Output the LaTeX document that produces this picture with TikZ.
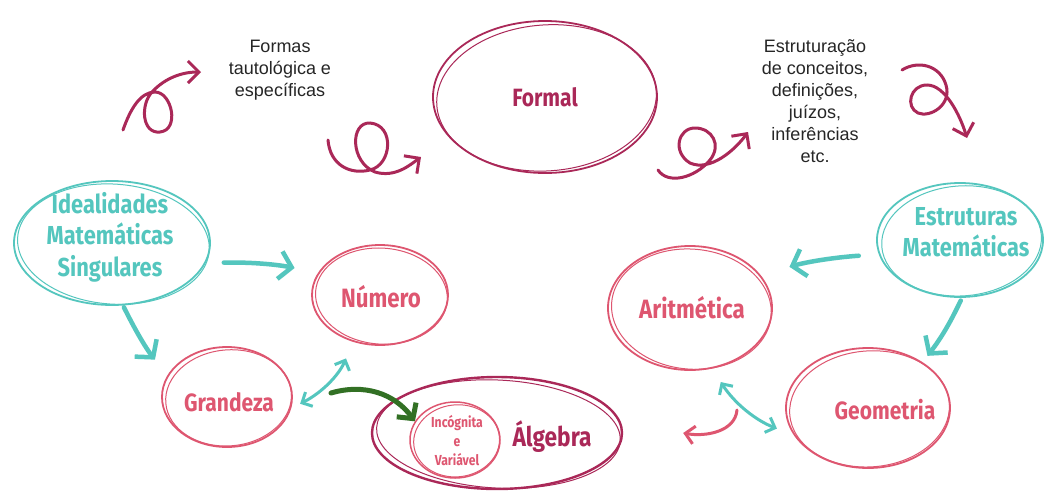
\documentclass[tikz,border=0pt]{standalone}
\usepackage{fontspec}
\setmainfont{Liberation Sans}
\newfontfamily\labfont[FakeStretch=0.84]{Fira Sans}
\usetikzlibrary{shapes.geometric,arrows.meta}
\definecolor{tealc}{RGB}{84,198,190}
\definecolor{pinkc}{RGB}{222,86,112}
\definecolor{crim}{RGB}{170,40,88}
\definecolor{grn}{RGB}{50,112,36}
\tikzset{
  ell/.style={ellipse, draw, inner sep=0pt, line width=1.8pt},
  lab/.style={font=\labfont\bfseries\fontsize{25}{31}\selectfont, align=center},
  note/.style={font=\fontsize{18}{22}\selectfont, align=center, text=black!85},
  tarr/.style={draw=tealc, line width=4.5pt, line cap=round, -{Straight Barb[length=12pt,width=28pt]}},
  tdbl/.style={draw=tealc, line width=3pt, line cap=round, {Straight Barb[length=8pt,width=16pt]}-{Straight Barb[length=8pt,width=16pt]}},
  curl/.style={draw=crim, line width=3pt, line cap=round, -{Straight Barb[length=11pt,width=22pt]}},
}
\newcommand\skell[5]{\draw[#4, line width=1pt, rotate around={#5:(#1.center)}] ([shift={(1.5,1)}]#1.center) ellipse [x radius=#2, y radius=#3];}
\begin{document}
\begin{tikzpicture}[x=1pt,y=-1pt]
\fill[white] (0,0) rectangle (1044,491);
\useasboundingbox (0,0) rectangle (1044,491);

% ellipses
\node[ell, draw=crim, minimum width=224, minimum height=152] (formal) at (545,97) {};
\skell{formal}{110}{73}{crim}{4}
\node[lab, text=crim] (formaltxt) at (545,97) {Formal};

\node[ell, draw=tealc, minimum width=196, minimum height=124] (ideal) at (112,243) {};
\skell{ideal}{96}{60}{tealc}{-4}
\node[lab, text=tealc, font=\labfont\bfseries\fontsize{26}{31.5}\selectfont] (idealtxt) at (110,237) {Idealidades\\Matemáticas\\Singulares};

\node[ell, draw=tealc, minimum width=166, minimum height=114] (estr) at (960,240) {};
\skell{estr}{80}{55}{tealc}{4}
\node[lab, text=tealc, font=\labfont\bfseries\fontsize{26}{31}\selectfont] (estrtxt) at (966,232) {Estruturas\\Matemáticas};

\node[ell, draw=pinkc, minimum width=136, minimum height=100] (numero) at (380,295) {};
\skell{numero}{66}{48}{pinkc}{-4}
\node[lab, text=pinkc, font=\labfont\bfseries\fontsize{26.5}{31}\selectfont] (numerotxt) at (381,297) {Número};

\node[ell, draw=pinkc, minimum width=130, minimum height=100] (grand) at (227,397) {};
\skell{grand}{63}{48}{pinkc}{5}
\node[lab, text=pinkc] (grandtxt) at (229,402) {Grandeza};

\node[ell, draw=pinkc, minimum width=164, minimum height=124] (arit) at (690,308) {};
\skell{arit}{80}{60}{pinkc}{-5}
\node[lab, text=pinkc, font=\labfont\bfseries\fontsize{26.5}{31}\selectfont] (arittxt) at (692,308) {Aritmética};

\node[ell, draw=pinkc, minimum width=164, minimum height=120] (geom) at (868,408) {};
\skell{geom}{80}{58}{pinkc}{4}
\node[lab, text=pinkc] (geomtxt) at (885,410) {Geometria};

\node[ell, draw=crim, line width=2.4pt, minimum width=250, minimum height=112] (alg) at (497,433) {};
\skell{alg}{122}{54}{crim}{-3}
\node[lab, text=crim, font=\labfont\bfseries\fontsize{27}{31}\selectfont] (algtxt) at (552,437) {Álgebra};

\node[ell, draw=pinkc, line width=1.5pt, minimum width=90, minimum height=76] (incog) at (455,440) {};
\skell{incog}{43}{36}{pinkc}{6}
\node[lab, text=pinkc, font=\labfont\bfseries\fontsize{14.5}{19}\selectfont] (incogtxt) at (457,441) {Incógnita\\e\\Variável};

% notes
\node[note] (n1) at (280,70) {Formas\\tautológica e\\específicas};
\node[note] (n2) at (815,101) {Estruturação\\de conceitos,\\definições,\\juízos,\\inferências\\etc.};

% curly arrows
\draw[curl] (123,130) .. controls (130,110) and (140,92) .. (155,92)
  .. controls (172,92) and (180,130) .. (160,132)
  .. controls (142,134) and (140,105) .. (152,92)
  .. controls (165,78) and (182,72) .. (201,72);
\draw[curl] (328,140) .. controls (330,165) and (350,175) .. (370,170)
  .. controls (392,165) and (395,125) .. (370,123)
  .. controls (350,122) and (350,162) .. (375,172)
  .. controls (395,178) and (410,165) .. (421,157);
\draw[curl] (658,170) .. controls (668,185) and (695,178) .. (710,160)
  .. controls (722,145) and (712,128) .. (695,128)
  .. controls (678,128) and (672,152) .. (690,163)
  .. controls (710,172) and (735,150) .. (748,132);
\draw[curl] (902,70) .. controls (918,60) and (940,65) .. (946,85)
  .. controls (952,105) and (930,118) .. (918,113)
  .. controls (905,107) and (910,85) .. (927,85)
  .. controls (945,85) and (960,115) .. (967,138);

% teal arrows
\draw[tarr, shorten <=18pt, shorten >=24pt] (ideal.-12) to[bend left=6] (numero.160);
\draw[tarr, shorten <=2pt, shorten >=20pt] (ideal.-80) to[bend right=6] (grand.160);
\draw[tarr, shorten <=20pt, shorten >=30pt] (estr.190) to[bend right=6] (arit.25);
\draw[tarr, shorten <=3pt, shorten >=8pt] (estr.-88) to[bend left=6] (geom.40);

% double arrows
\draw[tdbl, shorten <=10pt, shorten >=18pt] (grand.-10) to[bend right=20] (numero.-120);
\draw[tdbl, shorten <=16pt, shorten >=18pt] (arit.-70) to[bend right=18] (geom.200);

% green arrow
\coordinate (gstart) at (331,393);
\draw[draw=grn, line width=5pt, line cap=round, -{Straight Barb[length=11pt,width=24pt]}] (gstart) to[bend left=35] (incog.155);

% pink arrow
\coordinate (pstart) at (737,410);
\draw[draw=pinkc, line width=3pt, line cap=round, -{Straight Barb[length=9pt,width=18pt]}] (pstart) .. controls (735,432) and (705,437) .. ([xshift=60pt]alg.east);
\end{tikzpicture}
\end{document}
